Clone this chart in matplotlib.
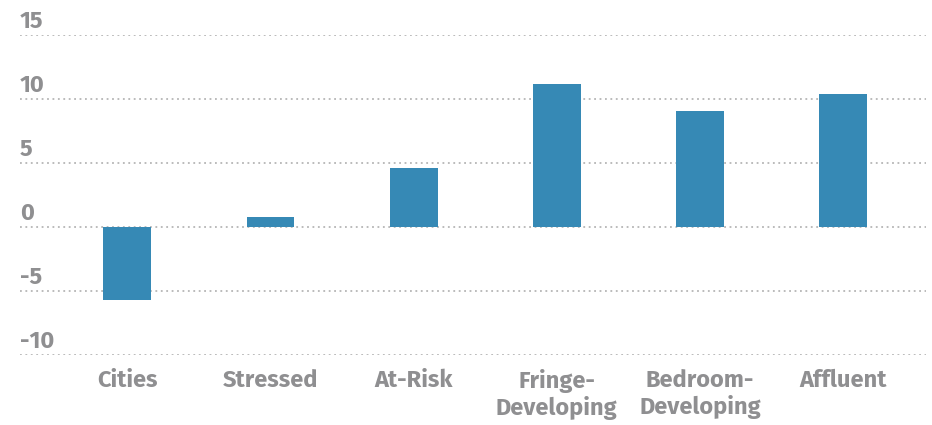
import matplotlib.pyplot as plt

# Datos del grafico
categorias = ['Cities', 'Stressed', 'At-Risk', 'Fringe-\nDeveloping',
              'Bedroom-\nDeveloping', 'Affluent']
valores = [-5.7, 0.8, 4.6, 11.2, 9.1, 10.4]
ticks_y = [-10, -5, 0, 5, 10, 15]

plt.rcParams['font.family'] = ['Fira Sans', 'Fira Sans Condensed', 'DejaVu Sans']

gris = '#8f8f91'
azul = '#3689b5'

fig = plt.figure(figsize=(9.32, 4.25), dpi=100)
ax = fig.add_axes([20/932, 1 - 355/425, 906/932, 320/425])

x = list(range(len(categorias)))
ax.bar(x, valores, width=0.335, color=azul, zorder=3)

ax.set_ylim(-10, 15)
ax.set_xlim(-0.75, 5.58)
ax.set_yticks(ticks_y)
ax.yaxis.grid(True, linestyle=(0, (1, 2)), color='#b5b5b5', linewidth=1.3, zorder=0)
ax.tick_params(axis='y', length=0, labelleft=False)

# etiquetas del eje y encima de cada linea
for t in ticks_y:
    ax.annotate(str(t), xy=(0, t), xycoords=('axes fraction', 'data'),
                xytext=(0, 1.5), textcoords='offset points',
                ha='left', va='bottom', fontsize=17, fontweight='bold', color=gris)

ax.set_xticks(x)
ax.set_xticklabels(categorias, fontsize=17, fontweight='bold', color=gris, linespacing=1.15)
ax.tick_params(axis='x', length=0, pad=10)

for s in ax.spines.values():
    s.set_visible(False)

fig.savefig('out.png', dpi=100)
